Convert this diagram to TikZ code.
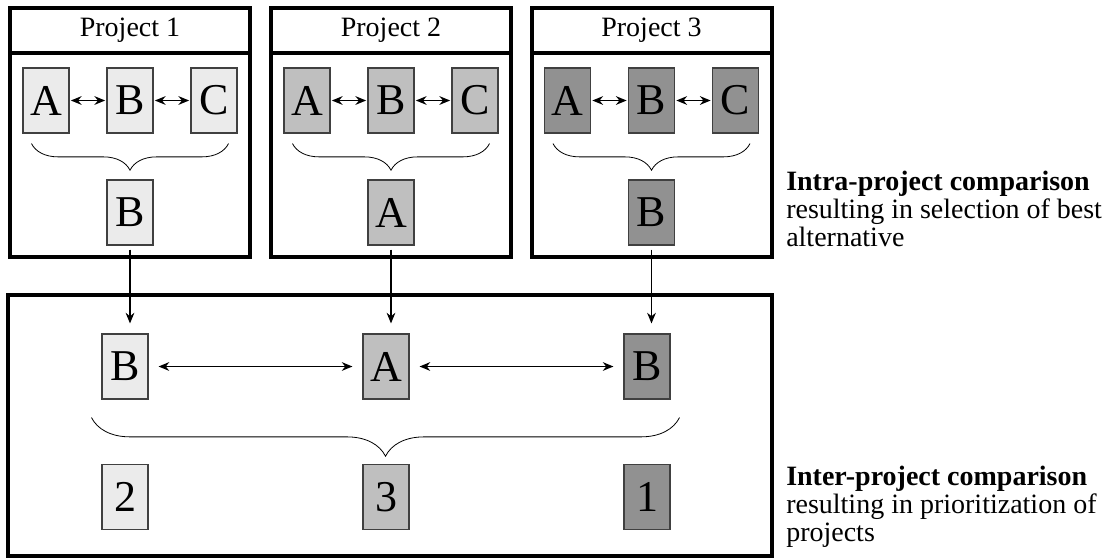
\documentclass[tikz,border=0pt]{standalone}
\usepackage{fontspec}
\setmainfont{Liberation Serif}
\usetikzlibrary{arrows.meta, positioning, decorations.pathreplacing}

\definecolor{lightalt}{gray}{0.92}
\definecolor{midalt}{gray}{0.75}
\definecolor{darkalt}{gray}{0.57}

\begin{document}
\begin{tikzpicture}[
x=0.75pt, y=-0.75pt,
panel/.style={
rectangle,
draw,
line width=3pt,
minimum width=180pt,
minimum height=186.75pt
},
header/.style={
rectangle,
draw,
line width=3pt,
minimum width=180pt,
minimum height=33.75pt,
font=\fontsize{21}{24}\selectfont
},
alt/.style={
rectangle,
draw=black!75,
line width=0.8pt,
minimum width=34.5pt,
minimum height=48.75pt,
inner sep=0pt,
font=\fontsize{33}{36}\selectfont
},
arrow/.style={-{Stealth[length=8pt,width=6.5pt]}, line width=1.2pt},
twoway/.style={{Stealth[length=8pt,width=6.5pt]}-{Stealth[length=8pt,width=6.5pt]}, line width=1.2pt},
bracket/.style={decorate, decoration={brace, mirror, amplitude=#1}, line width=0.6pt},
caption/.style={align=left, anchor=north west, inner sep=0pt, font=\fontsize{21}{21}\selectfont}
]
\useasboundingbox (0,0) rectangle (1108,558);

% Projects
\foreach \i/\cx/\fillc/\best in {1/130/lightalt/B, 2/391/midalt/A, 3/651.5/darkalt/B} {
\node[panel] (panel\i) at (\cx,132.5) {};
\node[header, anchor=north] (head\i) at (panel\i.north) {Project \i};
\node[alt, fill=\fillc] (a\i) at (\cx-84,100.5) {A};
\node[alt, fill=\fillc] (b\i) at (\cx,100.5) {B};
\node[alt, fill=\fillc] (c\i) at (\cx+84,100.5) {C};
\node[alt, fill=\fillc] (best\i) at (\cx,212.5) {\best};
\draw[twoway, shorten <=1pt, shorten >=1pt] (a\i) -- (b\i);
\draw[twoway, shorten <=1pt, shorten >=1pt] (b\i) -- (c\i);
\draw[bracket=20pt] ([shift={(9,10)}]a\i.south west) -- ([shift={(-9,10)}]c\i.south east);
}

% Comparison of projects
\node[panel, minimum width=573pt, minimum height=195.75pt] (pool) at (390,425.5) {};
\foreach \i/\cx/\fillc/\best/\rank in {1/125/lightalt/B/2, 2/386/midalt/A/3, 3/647/darkalt/B/1} {
\node[alt, fill=\fillc] (low\i) at (\cx,366.5) {\best};
\node[alt, fill=\fillc] (rank\i) at (\cx,497) {\rank};
\draw[arrow, shorten <=3pt, shorten >=7.5pt] (best\i.south) -- (best\i.south |- low\i.north);
}
\draw[twoway, shorten <=7.5pt, shorten >=7.5pt] (low1) -- (low2);
\draw[twoway, shorten <=7.5pt, shorten >=7.5pt] (low2) -- (low3);
\draw[bracket=29pt] ([shift={(-10,18)}]low1.south west) -- ([shift={(9,18)}]low3.south east);

% Captions
\node[caption] (intra) at (786,171)
{\textbf{Intra-project comparison}\\
resulting in selection of best\\
alternative};
\node[caption] (inter) at (786,466)
{\textbf{Inter-project comparison}\\
resulting in prioritization of\\
projects};

\end{tikzpicture}
\end{document}
